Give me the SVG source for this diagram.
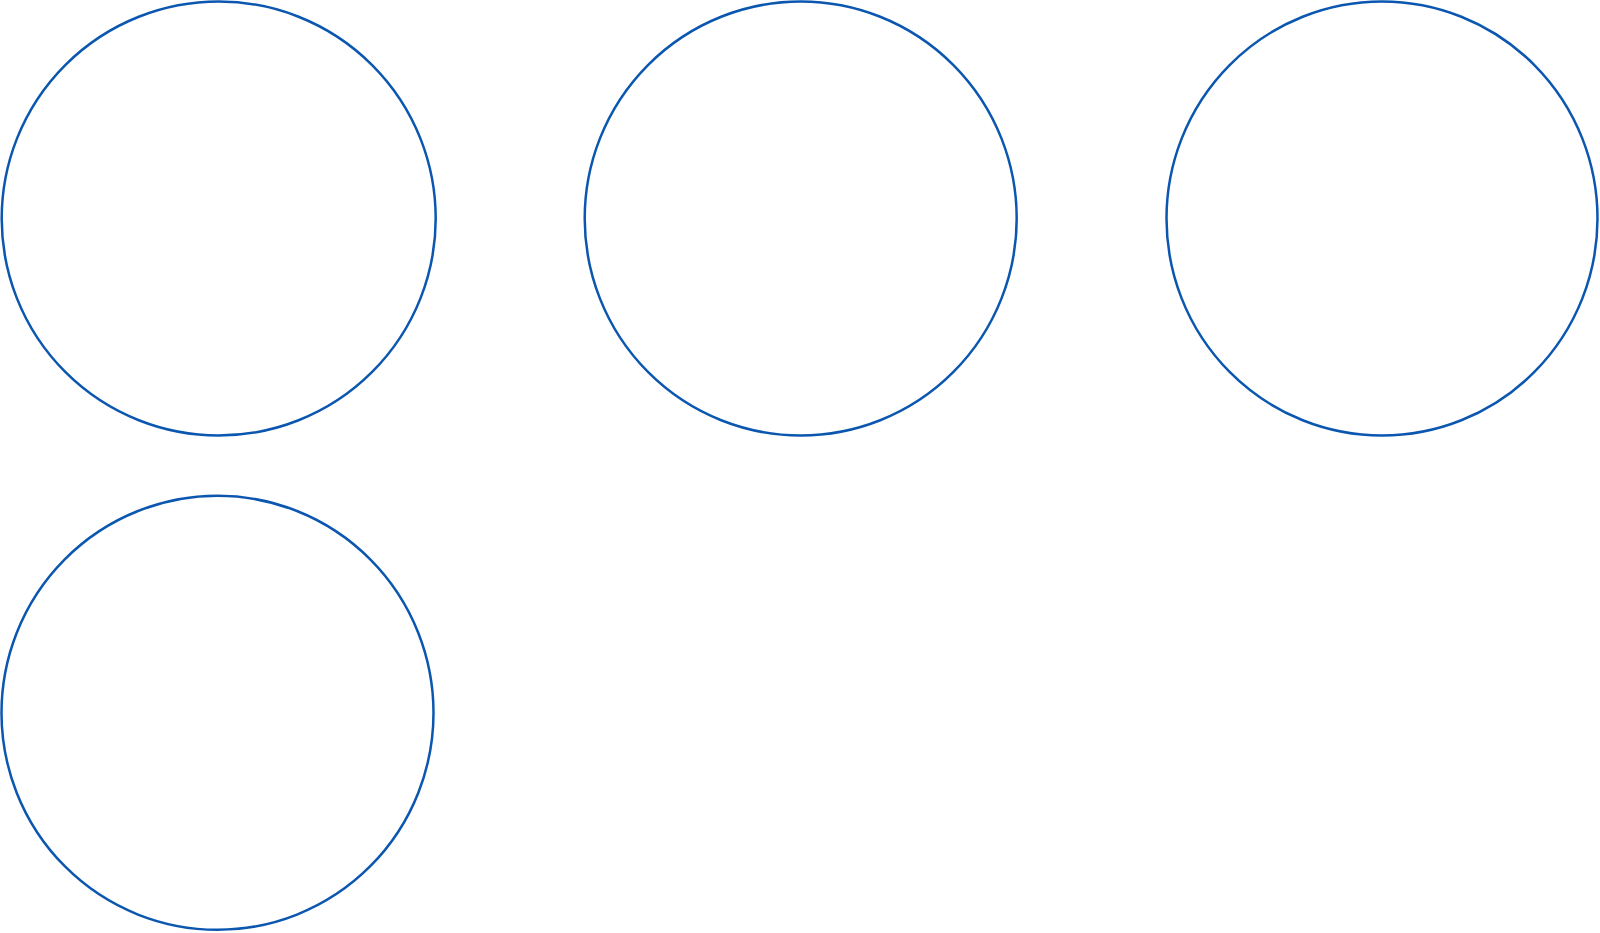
<svg xmlns="http://www.w3.org/2000/svg" width="1600" height="933" viewBox="0 0 1600 933">
<style>
.node{fill:#ffffff;stroke:#0b57b0;stroke-width:2.5}
</style>
<rect width="1600" height="933" fill="#ffffff"/>
<g id="node1"><ellipse class="node" cx="218.7" cy="218.5" rx="217" ry="217"/></g>
<g id="node2"><ellipse class="node" cx="800.7" cy="218.5" rx="216" ry="217"/></g>
<g id="node3"><ellipse class="node" cx="1382" cy="218.5" rx="215.5" ry="217"/></g>
<g id="node4"><ellipse class="node" cx="217.5" cy="712.8" rx="216" ry="217"/></g>
<g id="connectors"></g>
</svg>
